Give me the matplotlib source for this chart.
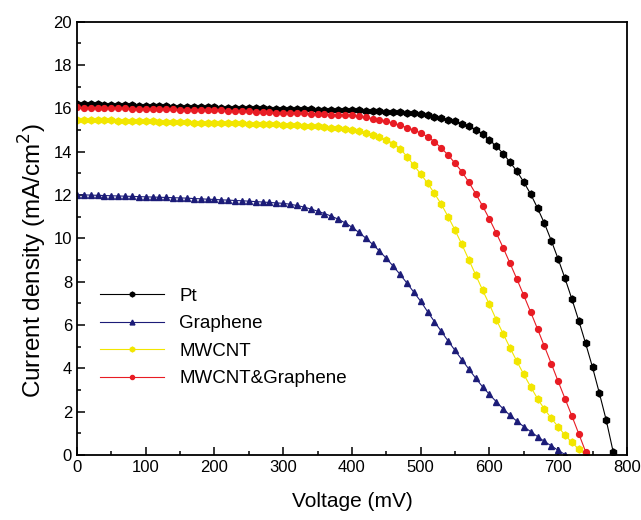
import numpy as np
import matplotlib
matplotlib.use("Agg")
from matplotlib import pyplot as plt
from matplotlib.ticker import MultipleLocator

plt.rcParams['font.family'] = ['Liberation Sans', 'DejaVu Sans']

# voltage steps in mV (10 mV step)
v_pt = np.arange(0, 790, 10)
v_gr = np.arange(0, 720, 10)
v_mw = np.arange(0, 750, 10)
v_mg = np.arange(0, 750, 10)

j_pt = [16.22, 16.21, 16.20, 16.19, 16.18, 16.17, 16.16, 16.15, 16.14, 16.13,
        16.12, 16.11, 16.10, 16.10, 16.09, 16.08, 16.07, 16.07, 16.06, 16.05,
        16.05, 16.04, 16.03, 16.03, 16.02, 16.01, 16.01, 16.00, 15.99, 15.99,
        15.98, 15.97, 15.97, 15.96, 15.96, 15.95, 15.95, 15.94, 15.93, 15.93,
        15.92, 15.91, 15.90, 15.89, 15.88, 15.86, 15.84, 15.82, 15.80, 15.77,
        15.73, 15.68, 15.62, 15.56, 15.49, 15.40, 15.30, 15.18, 15.02, 14.82,
        14.55, 14.25, 13.92, 13.52, 13.10, 12.60, 12.05, 11.40, 10.70, 9.90,
        9.05, 8.15, 7.20, 6.20, 5.15, 4.05, 2.85, 1.60, 0.15]

j_gr = [12.02, 12.01, 12.00, 11.99, 11.98, 11.97, 11.96, 11.95, 11.94, 11.93,
        11.92, 11.91, 11.90, 11.89, 11.88, 11.87, 11.86, 11.84, 11.83, 11.81,
        11.80, 11.78, 11.77, 11.75, 11.74, 11.72, 11.70, 11.68, 11.66, 11.64,
        11.62, 11.58, 11.52, 11.45, 11.36, 11.26, 11.15, 11.03, 10.89, 10.72,
        10.52, 10.28, 10.02, 9.73, 9.42, 9.08, 8.72, 8.34, 7.94, 7.52,
        7.10, 6.62, 6.16, 5.71, 5.26, 4.83, 4.40, 3.97, 3.55, 3.15,
        2.80, 2.46, 2.13, 1.83, 1.56, 1.31, 1.08, 0.85, 0.63, 0.42,
        0.22, 0.02]

j_mw = [15.48, 15.47, 15.47, 15.46, 15.46, 15.45, 15.44, 15.43, 15.43, 15.42,
        15.41, 15.40, 15.39, 15.38, 15.38, 15.37, 15.36, 15.35, 15.35, 15.34,
        15.33, 15.33, 15.32, 15.31, 15.31, 15.30, 15.29, 15.28, 15.27, 15.26,
        15.25, 15.24, 15.22, 15.21, 15.19, 15.17, 15.14, 15.11, 15.08, 15.04,
        15.00, 14.95, 14.88, 14.79, 14.68, 14.55, 14.38, 14.15, 13.78, 13.38,
        12.98, 12.55, 12.08, 11.58, 11.00, 10.38, 9.72, 9.02, 8.32, 7.62,
        6.95, 6.25, 5.60, 4.95, 4.32, 3.72, 3.15, 2.60, 2.12, 1.70,
        1.30, 0.92, 0.58, 0.27, 0.00]

j_mg = [16.05, 16.04, 16.03, 16.03, 16.02, 16.01, 16.00, 16.00, 15.99, 15.99,
        15.98, 15.97, 15.97, 15.96, 15.96, 15.95, 15.94, 15.94, 15.93, 15.93,
        15.92, 15.91, 15.90, 15.89, 15.88, 15.87, 15.86, 15.84, 15.83, 15.81,
        15.80, 15.79, 15.78, 15.77, 15.76, 15.75, 15.74, 15.72, 15.71, 15.70,
        15.68, 15.65, 15.60, 15.53, 15.47, 15.40, 15.32, 15.22, 15.12, 15.00,
        14.87, 14.70, 14.47, 14.17, 13.85, 13.47, 13.08, 12.60, 12.07, 11.50,
        10.90, 10.25, 9.57, 8.85, 8.12, 7.37, 6.60, 5.82, 5.02, 4.22,
        3.40, 2.60, 1.80, 0.98, 0.15]

labels = ['Pt', 'Graphene', 'MWCNT', 'MWCNT&Graphene']

fig = plt.figure(figsize=(6.41, 5.20), dpi=100)
ax = fig.add_axes([0.120, 0.125, 0.858, 0.833])

ax.plot(v_pt, j_pt, color='black', lw=0.8, marker='h', ms=5, label=labels[0])
ax.plot(v_gr, j_gr, color='#1c1c78', lw=0.8, marker='^', ms=5, label=labels[1])
ax.plot(v_mw, j_mw, color='#f2e600', lw=0.8, marker='h', ms=5,
        mec='#f2e600', label=labels[2])
ax.plot(v_mg, j_mg, color='#e81c24', lw=0.8, marker='o', ms=4.2, label=labels[3])

ax.set_xlim(0, 800)
ax.set_ylim(0, 20)
ax.xaxis.set_major_locator(MultipleLocator(100))
ax.xaxis.set_minor_locator(MultipleLocator(50))
ax.yaxis.set_major_locator(MultipleLocator(2))
ax.yaxis.set_minor_locator(MultipleLocator(1))
ax.tick_params(which='both', direction='in', labelsize=12, width=1.1)
ax.tick_params(which='major', length=6)
ax.tick_params(which='minor', length=3)
for s in ax.spines.values():
    s.set_linewidth(1.3)

ax.set_xlabel('Voltage (mV)', fontsize=15, labelpad=12)
ax.set_ylabel('Current density (mA/cm$^2$)', fontsize=17.5, labelpad=3, y=0.45)

leg = ax.legend(loc='upper left', bbox_to_anchor=(0.012, 0.425), frameon=False,
                fontsize=13.5, markerscale=0.7, handlelength=3.4,
                labelspacing=0.55, handletextpad=0.8)

fig.savefig('out.png', dpi=100)
